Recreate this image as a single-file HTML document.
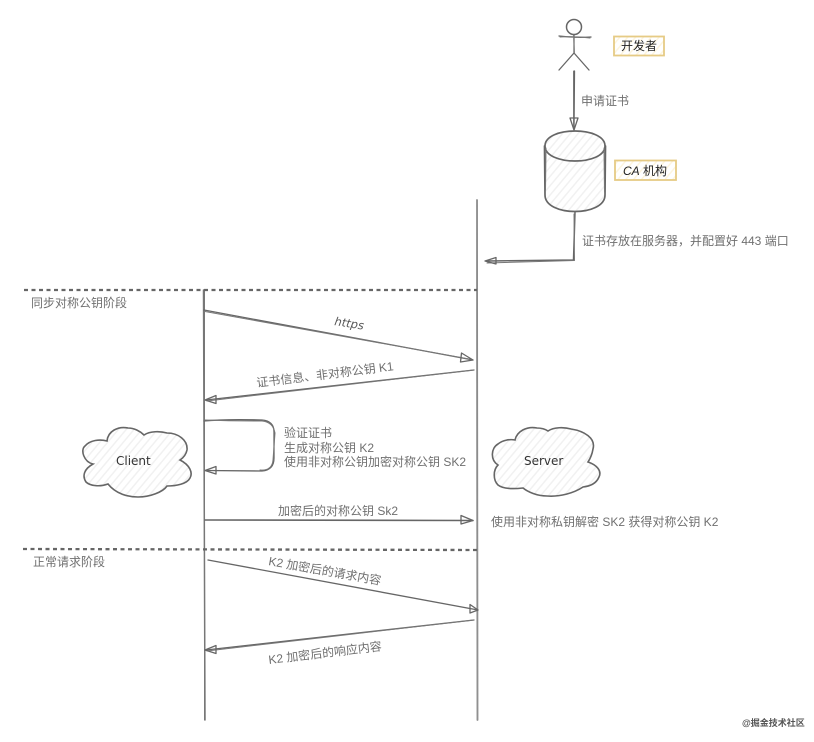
<!DOCTYPE html>
<html lang="zh">
<head>
<meta charset="utf-8">
<style>
html,body{margin:0;padding:0;background:#fff;width:814px;height:742px;overflow:hidden}
svg{display:block}
text{font-family:"Liberation Sans","Noto Sans CJK SC",sans-serif;font-size:12px;fill:#6f6f6f}
.h{font-family:"DejaVu Sans","Noto Sans CJK SC",sans-serif;fill:#333}
.s{fill:none;stroke:#666;stroke-width:1.300;stroke-linecap:round;stroke-linejoin:round}
.t{fill:none;stroke:#777;stroke-width:1;stroke-linecap:round;stroke-linejoin:round}
</style>
</head>
<body>
<svg width="814" height="742" viewBox="0 0 814 742" xmlns="http://www.w3.org/2000/svg">
<defs>
<pattern id="hg" width="6" height="6" patternUnits="userSpaceOnUse" patternTransform="rotate(40)">
<rect width="6" height="6" fill="#fff"/><rect width="1.500" height="6" fill="#f1f1f1"/>
</pattern>
<pattern id="hy" width="6" height="6" patternUnits="userSpaceOnUse" patternTransform="rotate(40)">
<rect width="6" height="6" fill="#fff"/><rect width="1.500" height="6" fill="#fdf5df"/>
</pattern>
</defs>

<!-- stick figure -->
<circle class="s" cx="574" cy="27" r="7.500" style="stroke-width:1.500"/>
<path class="s" d="M574 35 L574 53 M559 36 Q575 38 591 37 M574 53 L559 70 M574 53 L589 70"/>
<path class="t" d="M573.600 35 L574.400 53 M560 37 Q575 36 590 38"/>

<!-- apply arrow -->
<path class="s" d="M574.500 71 L574 129"/>
<path class="t" d="M573.500 71 L573.500 129"/>
<path class="s" d="M570 118 L574 130 L578 118 Z"/>
<text x="581" y="105">申请证书</text>

<!-- labels -->
<rect x="614" y="36.500" width="50" height="19" fill="url(#hy)" stroke="#e6cb85" stroke-width="1.800"/>
<text x="621" y="50" style="font-family:'Noto Sans CJK SC',sans-serif;fill:#222">开发者</text>
<rect x="615" y="160.500" width="61" height="19.500" fill="url(#hy)" stroke="#e6cb85" stroke-width="1.800"/>
<text x="623" y="175" style="fill:#222"><tspan style="font-style:italic">CA</tspan> 机构</text>

<!-- cylinder -->
<path d="M545 146 C545 126 605 126 605 146 L605 195 C605 217 545 217 545 195 Z" fill="url(#hg)"/>
<path class="s" style="stroke-width:1.700" d="M545 146 C545 126 605 126 605 146 C605 166 545 166 545 146 Z M544.500 146 L545 195 C545 217 605 217 605 195 L605.500 146"/>
<path class="t" d="M546 148 L545.500 190 M604 148 L604.500 192"/>

<!-- to server -->
<path class="s" style="stroke-width:1.500" d="M575 212 L573.500 260 L487 261"/>
<path class="t" d="M574 214 L574.500 260.500 L487 263"/>
<path class="s" d="M496 257.500 L485 261 L496 264 Z"/>
<text x="582" y="245">证书存放在服务器，并配置好 443 端口</text>

<!-- lifelines -->
<path class="s" style="stroke:#888;stroke-width:1.800" d="M477 200 L477.500 720"/>
<path class="t" style="stroke:#999" d="M476.500 200 L477 720"/>
<path class="s" style="stroke:#777;stroke-width:1.500" d="M203.500 290 L205 720"/>
<path class="t" d="M204.500 290 L204.500 720"/>

<!-- dashes -->
<path d="M24 290 L477 290" stroke="#666" stroke-width="2.300" stroke-dasharray="4 3.500" fill="none"/>
<path d="M23 549 L477 550" stroke="#666" stroke-width="2.300" stroke-dasharray="4 3.500" fill="none"/>
<text x="31" y="307">同步对称公钥阶段</text>
<text x="33" y="566">正常请求阶段</text>

<!-- https -->
<path class="s" d="M204 310 L473 360"/>
<path class="t" d="M205 311.500 L472 359.500"/>
<path class="s" d="M461.500 353 L473 360 L460.500 362 Z"/>
<text transform="translate(334 325) rotate(9)" style="font-family:'DejaVu Sans',sans-serif;font-style:italic;font-size:11.500px;fill:#555">https</text>

<!-- K1 -->
<path class="s" d="M474 370 L206 400"/>
<path class="t" d="M474 370 L207 401"/>
<path class="s" d="M216 395.500 L205 400 L216 403.500 Z"/>
<text transform="translate(257 387) rotate(-7)">证书信息、非对称公钥 K1</text>

<!-- self -->
<path class="s" d="M204 421 Q225 419 262 420 Q274 421 274 432 L274 458 Q274 470 262 471 L206 470.500"/>
<path class="t" d="M205 420 Q230 421 262 421 Q273 422 275 433 L273 460 Q272 471 260 470"/>
<path class="s" d="M216 466.500 L205 470.500 L216 474 Z"/>
<text x="284" y="437">验证证书</text>
<text x="284" y="452">生成对称公钥 K2</text>
<text x="284" y="466">使用非对称公钥加密对称公钥 SK2</text>

<!-- clouds -->
<path d="M93 464 C84 462 80 450 85 446 C90 440 100 439 107 441 C108 431 118 426 128 428 C134 428 140 431 144 435 C150 431 160 431 167 433 C178 433 188 440 187 450 C186 455 183 458 180 460 C190 465 193 473 190 478 C187 484 176 486 167 486 C163 492 150 497 138 497 C128 497 116 494 108 484 C100 487 90 486 86 482 C82 476 84 469 93 464 Z" fill="url(#hg)" stroke="#666" stroke-width="1.600"/>
<text class="h" x="116" y="465" style="font-family:'DejaVu Sans',sans-serif;font-size:12px">Client</text>

<path d="M498 465 C490 460 491 448 498 444 C503 440 510 439 515 440 C517 431 527 426 537 428 C541 428 545 429 548 431 C554 427 564 427 571 429 C584 431 596 438 593 449 C592 455 590 459 588 462 C597 465 602 471 599 477 C596 484 590 486 583 487 C574 493 560 497 547 496 C537 496 528 492 523 488 C514 489 503 489 498 485 C493 480 493 470 498 465 Z" fill="url(#hg)" stroke="#666" stroke-width="1.600"/>
<text class="h" x="524" y="465" style="font-family:'DejaVu Sans',sans-serif;font-size:12px">Server</text>

<!-- Sk2 -->
<path class="s" style="stroke-width:1.600" d="M205 520 L473 520.500"/>
<path class="s" d="M461 515.500 L473 520.500 L461 524 Z"/>
<text x="278" y="515">加密后的对称公钥 Sk2</text>
<text x="491" y="526">使用非对称私钥解密 SK2 获得对称公钥 K2</text>

<!-- request -->
<path class="s" d="M208 560 L478 610"/>
<path class="s" d="M470 604.500 L478 610 L470 613 Z"/>
<text transform="translate(268 565) rotate(10)">K2 加密后的请求内容</text>

<!-- response -->
<path class="s" d="M474 620 L206 650"/>
<path class="t" d="M474 620 L207 651"/>
<path class="s" d="M216 645.500 L205 650 L216 653.500 Z"/>
<text transform="translate(269 664) rotate(-7)">K2 加密后的响应内容</text>

<text x="742" y="726" style="font-size:9px;font-weight:bold;fill:#555">@掘金技术社区</text>
</svg>
</body>
</html>
